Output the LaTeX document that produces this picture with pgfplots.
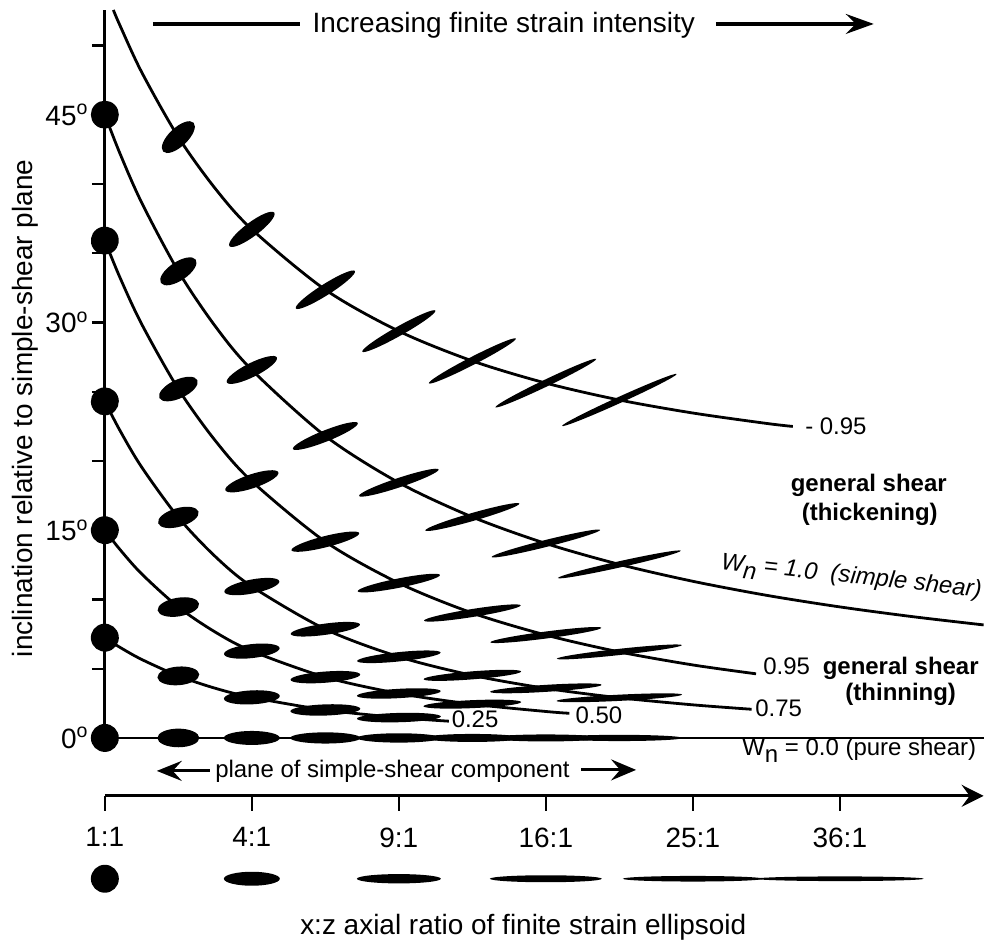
\documentclass[border=0pt]{standalone}
\usepackage{fontspec}
\setmainfont{Liberation Sans}
\usepackage{pgfplots}
\usepackage{pgfplotstable}
\pgfplotsset{compat=1.18}
\usetikzlibrary{arrows.meta}

% strain ellipse: constant area, semi-axes 7pt*k and 7pt/k, long axis at th degrees
\pgfdeclareplotmark{strainell}{%
  \pgfmathsetmacro\ella{7*\ellk}%
  \pgfmathsetmacro\ellb{7/\ellk}%
  \pgftransformrotate{\ellang}%
  \pgfpathellipse{\pgfpointorigin}{\pgfpoint{\ella pt}{0pt}}{\pgfpoint{0pt}{\ellb pt}}%
  \pgfusepathqfill}

\pgfplotsset{
  ellmarks/.style={
    scatter, only marks, mark=strainell,
    point meta min=-100, point meta max=100,
    scatter/use mapped color={draw=black, fill=black},
    visualization depends on={\thisrow{k} \as \ellk},
    visualization depends on={\thisrow{th} \as \ellang},
  },
  wcurve/.style={black, line width=1.4pt, smooth, no marks},
}

% k = sqrt of x:z ratio, th = inclination of long axis (deg)
\pgfplotstableread{
k   th
1.5 43.38
2   36.72
2.5 32.36
3   29.37
3.5 27.22
4   25.62
4.5 24.40
1   45.00
1.5 33.69
2   26.57
2.5 21.80
3   18.43
3.5 15.95
4   14.04
4.5 12.53
1   35.91
1.5 25.19
2   18.53
2.5 14.17
3   11.18
3.5 9.02
4   7.43
4.5 6.21
1   24.30
1.5 15.92
2   10.93
2.5 7.85
3   5.86
3.5 4.52
4   3.58
4.5 2.90
1   15.00
1.5 9.45
2   6.27
2.5 4.39
3   3.21
3.5 2.44
1   7.24
1.5 4.48
2   2.93
2.5 2.02
3   1.47
1   0
1.5 0
2   0
2.5 0
3   0
3.5 0
4   0
4.5 0
}\ellipses

\pgfplotstableread{
k th y
1 0 -4.15
2 0 -4.15
3 0 -4.15
4 0 -4.15
5 0 -4.15
6 0 -4.15
}\ratios

\begin{document}
\begin{tikzpicture}
\fontsize{14}{16}\selectfont
% pixel frame of the reference: 0.5pt per pixel
\begin{scope}[x=0.5pt, y=-0.5pt, shift={(-52.5pt,369.5pt)}]
  \path[use as bounding box] (0,0) rectangle (985,946);
\end{scope}

\begin{axis}[
  name=main, at={(0pt,0pt)}, anchor=south west, scale only axis,
  width=440pt, height=364.5pt,
  xmin=1, xmax=6.978, ymin=0, ymax=52.56,
  axis x line=none, axis y line=left,
  xtick=\empty,
  y axis line style={-, line width=1.4pt},
  ytick={0,15,30,45},
  yticklabels={0\textsuperscript{o},15\textsuperscript{o},30\textsuperscript{o},45\textsuperscript{o}},
  minor ytick={5,10,20,25,35,40,50},
  tick align=outside,
  major tick length=6.5pt, minor tick length=6.5pt,
  every tick/.style={black, line width=1.1pt},
  tick label style={font=\fontsize{14}{16}\selectfont},
  yticklabel style={inner sep=1.5pt},
  clip=false,
]
% Wn = -0.95
\addplot[wcurve] coordinates {(1.058,52.56) (1.1,51.51) (1.25,48.08) (1.5,43.38) (1.75,39.68) (2,36.72) (2.5,32.36) (3,29.37) (3.5,27.22) (4,25.62) (4.5,24.40) (5,23.46) (5.5,22.71) (5.68,22.49)};
% Wn = 1.0
\addplot[wcurve] coordinates {(1,45) (1.1,42.27) (1.25,38.66) (1.5,33.69) (1.75,29.74) (2,26.57) (2.5,21.80) (3,18.43) (3.5,15.95) (4,14.04) (4.5,12.53) (5,11.31) (5.5,10.30) (6,9.46) (6.5,8.75) (6.978,8.16)};
% Wn = 0.95
\addplot[wcurve] coordinates {(1,35.91) (1.1,33.31) (1.25,29.89) (1.5,25.19) (1.75,21.48) (2,18.53) (2.5,14.17) (3,11.18) (3.5,9.02) (4,7.43) (4.5,6.21) (5,5.27) (5.43,4.63)};
% Wn = 0.75
\addplot[wcurve] coordinates {(1,24.30) (1.1,22.25) (1.25,19.56) (1.5,15.92) (1.75,13.11) (2,10.93) (2.5,7.85) (3,5.86) (3.5,4.52) (4,3.58) (4.5,2.90) (5,2.39) (5.4,2.07)};
% Wn = 0.50
\addplot[wcurve] coordinates {(1,15) (1.1,13.64) (1.25,11.85) (1.5,9.45) (1.75,7.65) (2,6.27) (2.5,4.39) (3,3.21) (3.5,2.44) (4,1.91) (4.16,1.78)};
% Wn = 0.25
\addplot[wcurve] coordinates {(1,7.24) (1.1,6.56) (1.25,5.67) (1.5,4.48) (1.75,3.59) (2,2.93) (2.5,2.02) (3,1.47) (3.34,1.21)};
% Wn = 0
\addplot[black, line width=1.4pt, no marks] coordinates {(1,0) (6.978,0)};

\addplot[ellmarks] table[x=k, y=th] {\ellipses};
\end{axis}

\begin{axis}[
  at={(0pt,-29pt)}, anchor=south west, scale only axis,
  width=440pt, height=10pt,
  xmin=1, xmax=6.978, ymin=0, ymax=1,
  axis x line=bottom, axis y line=none,
  x axis line style={line width=1.4pt, -{Stealth[length=11pt,width=11pt,inset=4pt]}},
  xtick={1,2,3,4,5,6},
  xticklabels={1:1,4:1,9:1,16:1,25:1,36:1},
  tick align=outside, major tick length=7.5pt,
  every tick/.style={black, line width=1.1pt},
  tick label style={font=\fontsize{14}{16}\selectfont},
  xticklabel style={yshift=-3.5pt},
  clip=false,
]
\addplot[ellmarks] table[x=k, y=y] {\ratios};
\end{axis}

\begin{scope}[x=0.5pt, y=-0.5pt, shift={(-52.5pt,369.5pt)}]
  % top annotation
  \draw[line width=1.6pt] (153,24) -- (300,24);
  \node[anchor=base, inner sep=0pt] at (504.5,33) {Increasing finite strain intensity};
  \draw[line width=1.6pt, -{Stealth[length=14pt,width=10pt,inset=5pt]}] (717,24) -- (875,24);
  % axis titles
  \node[rotate=90, anchor=base, inner sep=0pt] at (33,409) {inclination relative to simple-shear plane};
  \node[anchor=base, inner sep=0pt] at (524,936) {x:z axial ratio of finite strain ellipsoid};
  % plane of simple shear
  \begin{scope}[font=\fontsize{12}{14}\selectfont]
    \draw[line width=1.6pt, {Stealth[length=12.5pt,width=10pt,inset=4.5pt]}-] (157,772) -- (210,772);
    \node[anchor=base, inner sep=0pt] at (393,779) {plane of simple-shear component};
    \draw[line width=1.6pt, -{Stealth[length=12.5pt,width=10.5pt,inset=4.5pt]}] (582,771) -- (637,771);
    % curve labels
    \node[anchor=base west, inner sep=0pt] at (806,435) {- 0.95};
    \node[anchor=base, inner sep=0pt, font=\fontsize{12}{14}\selectfont\bfseries] at (870,492) {general shear};
    \node[anchor=base, inner sep=0pt, font=\fontsize{12}{14}\selectfont\bfseries] at (871,521) {(thickening)};
    \node[anchor=base, inner sep=0pt, rotate=-6.2, font=\fontsize{12}{14}\selectfont\itshape] at (852,584) {W\raisebox{-0.55ex}{n} = 1.0 \ (simple shear)};
    \node[anchor=base west, inner sep=0pt] at (764,675) {0.95};
    \node[anchor=base, inner sep=0pt, font=\fontsize{12}{14}\selectfont\bfseries] at (902,675) {general shear};
    \node[anchor=base, inner sep=0pt, font=\fontsize{12}{14}\selectfont\bfseries] at (902,702) {(thinning)};
    \node[anchor=base west, inner sep=0pt] at (756,718) {0.75};
    \node[anchor=base west, inner sep=0pt] at (576,725) {0.50};
    \node[anchor=base west, inner sep=0pt] at (452,729) {0.25};
    \node[anchor=base west, inner sep=0pt] at (743,757) {W\raisebox{-0.55ex}{n} = 0.0 (pure shear)};
  \end{scope}
\end{scope}
\end{tikzpicture}
\end{document}
